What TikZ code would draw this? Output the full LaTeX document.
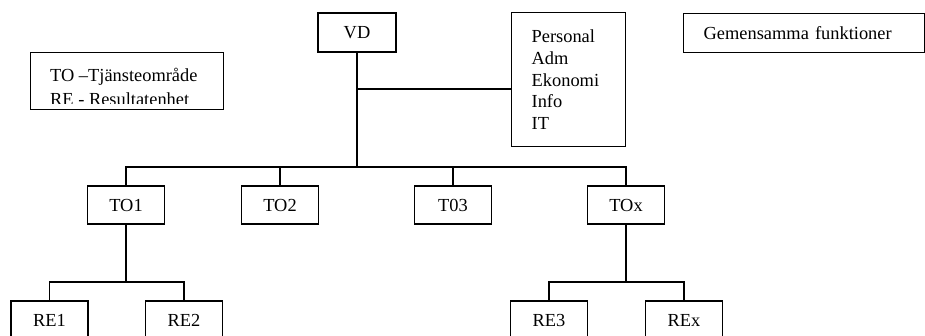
\documentclass[tikz,border=0pt]{standalone}
\usepackage{fontspec}
\setmainfont{Liberation Serif}
\usetikzlibrary{positioning, calc}

\tikzset{
  box/.style={draw, line width=1.3pt, minimum width=77, minimum height=38, inner sep=0pt},
  textbox/.style={draw, line width=1.3pt, align=left, inner xsep=20pt, inner ysep=0pt},
  line/.style={line width=1.3pt}
}

\begin{document}
\begin{tikzpicture}[x=1pt, y=-1pt, font=\fontsize{18.4}{21.6}\selectfont]
    \useasboundingbox (0,0) rectangle (925,335);
    \clip (0,0) rectangle (925,335);
    %ledning
        \node (VD) at (357,32.5)[box, minimum width=78, minimum height=39]{VD};
        \node (stab) at (511,13)[textbox, anchor=north west, text width=74, minimum height=134, yshift=1pt]{Personal\\Adm\\Ekonomi\\Info\\IT};
        \node (gem) at (683,13)[textbox, anchor=north west, text width=201, minimum height=39]{Gemensamma funktioner};
        %förklaring
        \node (legend) at (30,52)[draw, line width=1.3pt, anchor=north west, minimum width=193, minimum height=57]{};
        \begin{scope}
            \clip (legend.north west) rectangle ([yshift=7pt]legend.south east);
            \node (legendtext) at (50,67.5)[anchor=north west, inner sep=0pt, align=left, font=\fontsize{18.4}{24}\selectfont]{TO –Tjänsteområde\\RE - Resultatenhet};
        \end{scope}
        %tjänsteområden
        \node (TO1) at (126,205)[box]{TO1};
        \node (TO2) at (280,205)[box]{TO2};
        \node (T03) at (453,205)[box]{T03};
        \node (TOx) at (626,205)[box]{TOx};
        %resultatenheter
        \node (RE1) at (49.5,320)[box]{RE1};
        \node (RE2) at (184,320)[box]{RE2};
        \node (RE3) at (549,320)[box]{RE3};
        \node (REx) at (684,320)[box]{REx};
        %linjer
        \coordinate (topbus) at (357,167);
        \coordinate (stabjoin) at (357,89);
        \coordinate (bus1) at (126,282);
        \coordinate (busx) at (626,282);
        \draw[line] (VD) -- (topbus);
        \draw[line] (stabjoin) -- (stabjoin -| stab.west);
        \draw[line] (TO1.north) |- (topbus) -| (TOx.north);
        \draw[line] (TO2.north) -- (TO2.north |- topbus);
        \draw[line] (T03.north) -- (T03.north |- topbus);
        \draw[line] (TO1) -- (bus1);
        \draw[line] (RE1.north) |- (bus1) -| (RE2.north);
        \draw[line] (TOx) -- (busx);
        \draw[line] (RE3.north) |- (busx) -| (REx.north);
\end{tikzpicture}
\end{document}
